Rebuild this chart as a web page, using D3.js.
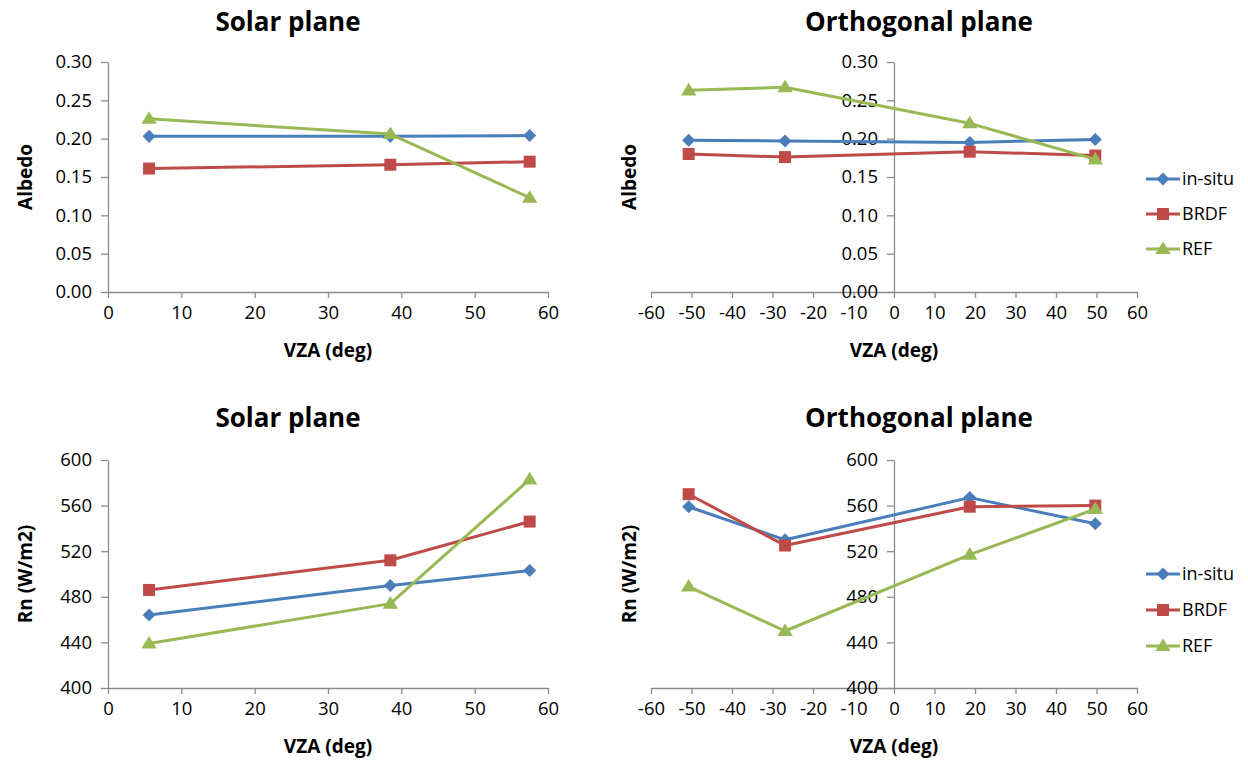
<!DOCTYPE html>
<html><head><meta charset="utf-8">
<script src="https://cdn.jsdelivr.net/npm/d3@7"></script>
<style>body{margin:0;background:#fff}svg{display:block}text{font-family:"Open Sans","Liberation Sans",sans-serif}</style>
</head><body><svg id="c" width="1248" height="761"></svg>
<script>
const seriesNames = ["in-situ","BRDF","REF"];
const colors = ["#4A7EBB","#BE4B48","#98B954"];

const solarX = [5.6, 38.5, 57.5];
const solarAlbedo = {"in-situ":[0.203,0.203,0.204], "BRDF":[0.161,0.166,0.170], "REF":[0.226,0.206,0.123]};
const solarRn = {"in-situ":[464,490,503], "BRDF":[486,512,546], "REF":[439,474,583]};

const orthoX = [-50.7, -26.9, 18.7, 49.7];
const orthoAlbedo = {"in-situ":[0.198,0.197,0.195,0.199], "BRDF":[0.180,0.176,0.183,0.178], "REF":[0.263,0.267,0.220,0.173]};
const orthoRn = {"in-situ":[559,530,567,544], "BRDF":[570,525,559,560], "REF":[489,450,517,557]};

const solarTicks = [0,10,20,30,40,50,60];
const orthoTicks = [-60,-50,-40,-30,-20,-10,0,10,20,30,40,50,60];
const albedoTicks = [0,0.05,0.10,0.15,0.20,0.25,0.30];
const rnTicks = [400,440,480,520,560,600];

const svg = d3.select("#c");
const axisColor = "#8c8c8c";

// custom marker shapes
const diamond = {draw(ctx,size){const r=Math.sqrt(size)/2*1.0; ctx.moveTo(0,-r);ctx.lineTo(r,0);ctx.lineTo(0,r);ctx.lineTo(-r,0);ctx.closePath();}};
const square = {draw(ctx,size){const r=Math.sqrt(size)/2; ctx.rect(-r,-r,2*r,2*r);}};
const triangle = {draw(ctx,size){const w=Math.sqrt(size)/2*1.1, h=Math.sqrt(size)*0.9; ctx.moveTo(0,-h*0.6);ctx.lineTo(w,h*0.4);ctx.lineTo(-w,h*0.4);ctx.closePath();}};
const markerTypes = [diamond, square, triangle];
const markerSizes = [170, 144, 196];

function marker(i){ return d3.symbol().type(markerTypes[i]).size(markerSizes[i]); }

function panel(o){
  const g = svg.append("g");
  const x = d3.scaleLinear().domain(o.xd).range(o.xr);
  const y = d3.scaleLinear().domain(o.yd).range(o.yr);
  const xa = g.append("g").attr("transform",`translate(0,${o.yr[0]})`)
    .call(d3.axisBottom(x).tickValues(o.xt).tickSize(6).tickSizeOuter(0).tickFormat(d=>String(d)));
  const ya = g.append("g").attr("transform",`translate(${x(0)},0)`)
    .call(d3.axisLeft(y).tickValues(o.yt).tickSize(7).tickSizeOuter(0).tickFormat(o.yf));
  [xa,ya].forEach(a=>{
    a.select(".domain").attr("stroke",axisColor).attr("stroke-width",1.3);
    a.selectAll(".tick line").attr("stroke",axisColor).attr("stroke-width",1.3);
    a.selectAll(".tick text").attr("fill","#000").attr("font-size",18.5);
  });
  xa.selectAll(".tick text").attr("dy","0.71em").attr("y",14);
  ya.selectAll(".tick text").attr("x",-16);
  g.append("text").attr("x",o.tx).attr("y",o.ty).attr("text-anchor","middle")
    .attr("font-size",26).attr("font-weight","bold").text(o.title);
  g.append("text").attr("x",(o.xr[0]+o.xr[1])/2).attr("y",o.yr[0]+65).attr("text-anchor","middle")
    .attr("font-size",19).attr("font-weight","bold").text("VZA (deg)");
  g.append("text").attr("transform",`translate(${o.lx},${(o.yr[0]+o.yr[1])/2}) rotate(-90)`)
    .attr("text-anchor","middle").attr("font-size",19).attr("font-weight","bold").text(o.ylabel);
  seriesNames.forEach((s,i)=>{
    const pts = o.xs.map((xv,j)=>[xv,o.data[s][j]]);
    g.append("path").datum(pts).attr("fill","none").attr("stroke",colors[i]).attr("stroke-width",3)
      .attr("stroke-linejoin","round")
      .attr("d",d3.line().x(d=>x(d[0])).y(d=>y(d[1])));
    g.selectAll(null).data(pts).join("path")
      .attr("transform",d=>`translate(${x(d[0])},${y(d[1])})`)
      .attr("d",marker(i)).attr("fill",colors[i]);
  });
  if(o.legend){
    seriesNames.forEach((s,i)=>{
      const ly = o.legend[1] + i*o.legend[2];
      svg.append("line").attr("x1",o.legend[0]).attr("x2",o.legend[0]+34).attr("y1",ly).attr("y2",ly)
        .attr("stroke",colors[i]).attr("stroke-width",3);
      svg.append("path").attr("transform",`translate(${o.legend[0]+17},${ly})`).attr("d",marker(i)).attr("fill",colors[i]);
      svg.append("text").attr("x",o.legend[0]+36).attr("y",ly).attr("dy","0.35em").attr("font-size",18).text(s);
    });
  }
}

panel({xd:[0,60],xr:[108,548],yd:[0,0.30],yr:[292,62],xt:solarTicks,yt:albedoTicks,yf:d3.format(".2f"),
  xs:solarX,data:solarAlbedo,title:"Solar plane",tx:288,ty:31,lx:32,ylabel:"Albedo"});
panel({xd:[-60,60],xr:[651,1137],yd:[0,0.30],yr:[292,62],xt:orthoTicks,yt:albedoTicks,yf:d3.format(".2f"),
  xs:orthoX,data:orthoAlbedo,title:"Orthogonal plane",tx:919,ty:31,lx:636,ylabel:"Albedo",legend:[1146,179,35]});
panel({xd:[0,60],xr:[108,548],yd:[400,600],yr:[688,460],xt:solarTicks,yt:rnTicks,yf:d3.format("d"),
  xs:solarX,data:solarRn,title:"Solar plane",tx:288,ty:427,lx:32,ylabel:"Rn (W/m2)"});
panel({xd:[-60,60],xr:[651,1137],yd:[400,600],yr:[688,460],xt:orthoTicks,yt:rnTicks,yf:d3.format("d"),
  xs:orthoX,data:orthoRn,title:"Orthogonal plane",tx:919,ty:427,lx:636,ylabel:"Rn (W/m2)",legend:[1146,574,36]});
</script></body></html>
